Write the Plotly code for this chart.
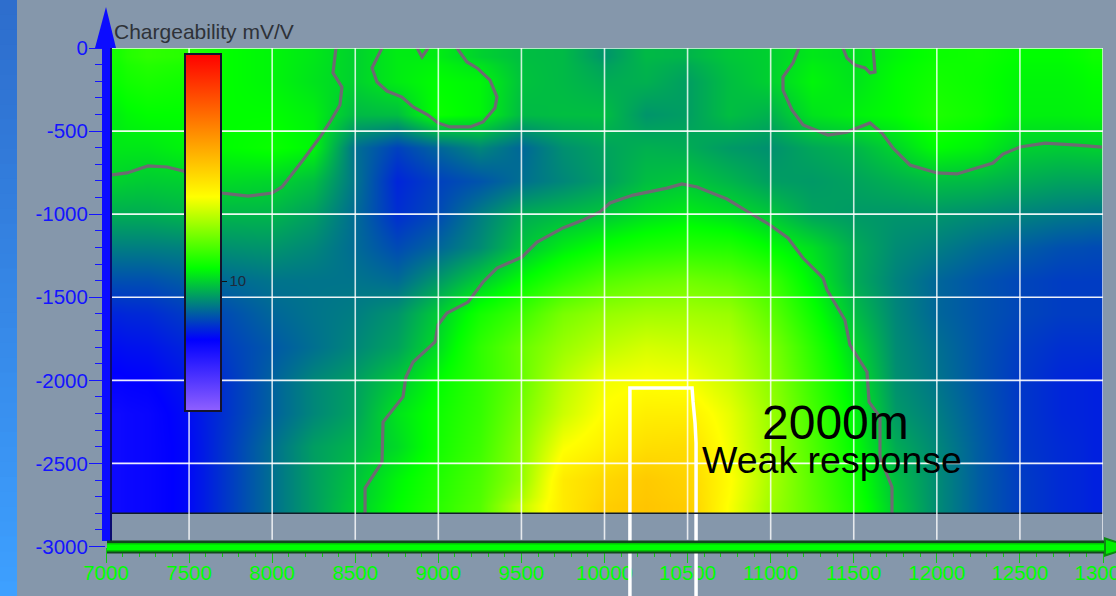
import plotly.graph_objects as go

W, H = 1116, 596
BG = "#8597AB"

# Heatmap cell edges (m): cells are 250 m wide and 200 m tall, trimmed at the survey limits
x_edges = [7030, 7125, 7375, 7625, 7875, 8125, 8375, 8625, 8875, 9125, 9375, 9625, 9875,
           10125, 10375, 10625, 10875, 11125, 11375, 11625, 11875, 12125, 12375, 12625, 12875, 13000]
y_edges = [0, -100, -300, -500, -700, -900, -1100, -1300, -1500, -1700, -1900, -2100, -2300, -2500, -2700, -2800]

row_0000 = [11.5, 12.0, 11.8, 11.0, 10.8, 10.5, 10.0, 10.6, 10.6, 10.0, 9.6, 9.5, 8.7, 9.5, 9.4, 9.8, 10.0, 10.5, 10.3, 10.8, 11.2, 11.3, 11.0, 11.0, 11.3]
row_0200 = [11.2, 11.5, 11.3, 11.0, 10.8, 10.4, 10.0, 10.6, 11.0, 10.8, 9.7, 9.5, 9.2, 9.3, 8.9, 9.6, 10.0, 10.8, 10.4, 11.0, 11.4, 11.2, 10.8, 10.8, 11.0]
row_0400 = [10.7, 11.0, 11.0, 11.0, 11.0, 10.7, 9.5, 9.6, 11.2, 10.8, 9.5, 9.6, 9.6, 8.7, 8.9, 9.6, 9.3, 10.4, 10.7, 11.0, 11.6, 11.3, 10.7, 10.7, 10.8]
row_0600 = [10.5, 10.5, 10.8, 11.0, 11.2, 10.8, 7.9, 6.9, 7.7, 8.4, 7.7, 8.6, 9.0, 9.3, 9.2, 8.8, 8.6, 9.1, 9.4, 10.1, 11.0, 10.7, 10.0, 9.9, 10.0]
row_0800 = [10.0, 9.9, 10.0, 10.2, 10.1, 9.6, 8.0, 6.3, 6.9, 7.3, 7.9, 8.4, 8.9, 9.6, 9.8, 9.4, 8.9, 8.8, 9.0, 9.3, 9.6, 9.5, 9.2, 9.0, 9.0]
row_1000 = [9.2, 9.2, 9.4, 9.4, 9.4, 8.9, 7.8, 6.5, 7.1, 8.2, 9.2, 9.5, 9.8, 10.3, 10.6, 10.3, 9.8, 9.0, 8.8, 8.7, 8.7, 8.5, 8.3, 8.1, 8.0]
row_1200 = [8.2, 8.2, 8.3, 8.6, 8.7, 8.4, 7.8, 7.1, 7.7, 8.5, 9.7, 10.6, 11.2, 11.6, 11.8, 11.7, 11.0, 10.3, 9.2, 8.5, 8.2, 7.8, 7.5, 7.2, 7.1]
row_1400 = [7.2, 7.2, 7.5, 7.8, 8.0, 8.0, 8.0, 7.8, 8.8, 9.9, 11.0, 12.0, 12.8, 13.2, 13.4, 13.1, 12.3, 10.7, 9.2, 8.3, 7.7, 7.3, 7.0, 6.8, 6.8]
row_1600 = [6.3, 6.4, 6.8, 7.2, 7.7, 8.0, 8.2, 8.7, 9.9, 11.4, 12.3, 13.6, 14.2, 14.5, 14.5, 14.3, 13.0, 11.3, 9.6, 8.4, 7.7, 7.3, 7.0, 6.8, 6.8]
row_1800 = [5.8, 5.9, 6.3, 6.9, 7.4, 7.9, 8.4, 9.0, 10.3, 12.0, 13.2, 14.3, 15.1, 15.6, 15.4, 15.0, 13.7, 11.9, 10.1, 8.5, 7.9, 7.3, 6.8, 6.5, 6.5]
row_2000 = [5.4, 5.5, 6.0, 6.7, 7.6, 8.4, 8.9, 9.8, 11.0, 12.0, 13.2, 15.0, 16.2, 16.4, 16.3, 15.4, 14.0, 12.2, 10.5, 8.6, 8.0, 7.3, 6.7, 6.3, 6.2]
row_2200 = [5.0, 5.2, 5.8, 6.7, 7.6, 8.4, 9.0, 10.4, 11.3, 12.1, 13.6, 15.4, 16.6, 17.2, 17.2, 16.0, 14.3, 12.5, 10.8, 8.8, 8.2, 7.4, 6.7, 6.3, 6.2]
row_2400 = [5.0, 5.2, 5.7, 6.8, 7.9, 8.9, 9.4, 10.2, 11.4, 12.3, 14.0, 16.4, 17.2, 17.9, 18.0, 16.2, 14.4, 12.7, 11.0, 9.2, 8.4, 7.5, 6.7, 6.4, 6.2]
row_2600 = [5.0, 5.2, 5.7, 6.8, 7.9, 8.9, 9.7, 10.8, 11.7, 12.6, 14.2, 17.4, 18.2, 18.8, 18.4, 16.6, 14.6, 12.9, 11.4, 9.6, 8.5, 7.5, 6.8, 6.4, 6.2]
row_2800 = [5.0, 5.2, 5.7, 6.8, 7.9, 8.9, 9.9, 11.0, 11.9, 12.8, 15.2, 17.4, 18.6, 19.0, 18.7, 16.4, 14.4, 13.0, 11.6, 9.8, 8.5, 7.5, 6.8, 6.4, 6.2]
z_rows = [row_0000, row_0200, row_0400, row_0600, row_0800, row_1000, row_1200, row_1400,
          row_1600, row_1800, row_2000, row_2200, row_2400, row_2600, row_2800]

# 10 mV/V contour pieces (position m, depth m)
contour_a_x = [7036, 7126, 7253, 7367, 7463, 7698, 7855, 7999, 8059, 8125, 8186, 8288, 8348, 8408, 8420, 8366, 8384]
contour_a_y = [-764, -752, -710, -716, -740, -873, -891, -873, -836, -752, -674, -536, -445, -343, -235, -150, 0]
contour_b_x = [8661, 8601, 8631, 8691, 8781, 8848, 8938, 8998, 9070, 9191, 9269, 9341, 9353, 9311, 9233, 9172, 9112]
contour_b_y = [0, -120, -205, -259, -295, -355, -403, -451, -475, -475, -445, -361, -295, -193, -120, -84, 0]
contour_v_x = [8872, 8902, 8938]
contour_v_y = [0, -54, 0]
contour_c_x = [11170, 11134, 11074, 11074, 11128, 11195, 11345, 11459, 11598, 11670, 11736, 11838, 12001, 12121, 12338, 12398, 12501, 12651, 12843, 12994]
contour_c_y = [0, -90, -175, -253, -373, -463, -524, -506, -451, -512, -602, -704, -752, -758, -692, -638, -596, -572, -584, -596]
contour_d_x = [8559, 8559, 8661, 8667, 8787, 8805, 8848, 8980, 8998, 9052, 9179, 9269, 9353, 9503, 9594, 9750, 9871, 9973, 10033, 10172, 10376, 10466, 10557, 10737, 10876, 10996, 11104, 11195, 11315, 11339, 11447, 11477, 11580, 11592, 11658, 11658, 11730, 11730]
contour_d_y = [-2800, -2648, -2491, -2251, -2100, -1980, -1890, -1769, -1667, -1595, -1529, -1408, -1324, -1258, -1168, -1083, -1035, -987, -933, -885, -843, -818, -836, -909, -993, -1065, -1143, -1264, -1384, -1456, -1637, -1787, -1950, -2130, -2221, -2461, -2642, -2800]
contour_e_x = [11435, 11459, 11507, 11568, 11598, 11628, 11616]
contour_e_y = [0, -60, -102, -120, -150, -144, 0]
contours = [(contour_a_x, contour_a_y), (contour_b_x, contour_b_y), (contour_v_x, contour_v_y),
            (contour_c_x, contour_c_y), (contour_d_x, contour_d_y), (contour_e_x, contour_e_y)]

# White outline of the 2000 m target
target_x = [10153, 10153, 10520, 10527, 10533, 10545, 10551, 10551]
target_y = [-3000, -2046, -2046, -2046, -2130, -2257, -2377, -3000]

x_ticks = [7000, 7500, 8000, 8500, 9000, 9500, 10000, 10500, 11000, 11500, 12000, 12500, 13000]
x_labels = ["7000", "7500", "8000", "8500", "9000", "9500", "10000", "10500", "11000", "11500", "12000", "12500", "13000"]
y_ticks = [0, -500, -1000, -1500, -2000, -2500, -3000]
y_labels = ["0", "-500", "-1000", "-1500", "-2000", "-2500", "-3000"]

colorscale = [[0, "#9060ff"], [0.2, "#0000ff"], [0.4, "#00ff00"], [0.6, "#ffff00"], [1, "#ff0000"]]


def px(v):
    return v / W


def py(v):
    return 1 - v / H


def rect(x0, y0, x1, y1, color):
    return dict(type="rect", xref="paper", yref="paper", x0=px(x0), x1=px(x1), y0=py(y0), y1=py(y1),
                fillcolor=color, line=dict(width=0), layer="above")


def poly(points, color):
    path = "M " + " L ".join(f"{px(a):.5f},{py(b):.5f}" for a, b in points) + " Z"
    return dict(type="path", xref="paper", yref="paper", path=path, fillcolor=color,
                line=dict(width=0), layer="above")


fig = go.Figure()
fig.add_trace(go.Heatmap(
    x=x_edges, y=y_edges, z=z_rows, zmin=0, zmax=27.5, zsmooth="best", colorscale=colorscale,
    hoverinfo="skip",
    colorbar=dict(
        xref="container", yref="container", x=185 / W, y=1 - 411 / H, xanchor="left", yanchor="bottom",
        thicknessmode="pixels", thickness=36, lenmode="pixels", len=357, xpad=0, ypad=0,
        outlinewidth=2, outlinecolor="#14142e", borderwidth=0, tickvals=[10], ticktext=["10"],
        ticks="outside", ticklen=5, tickwidth=1, tickcolor="#111",
        tickfont=dict(family="Liberation Sans", size=15, color="#1e2a3a"),
    ),
))
for cx, cy in contours:
    fig.add_trace(go.Scatter(x=cx, y=cy, mode="lines", line=dict(color="#6d6b72", width=3.2), hoverinfo="skip", showlegend=False))
fig.add_trace(go.Scatter(x=target_x, y=target_y, mode="lines",
                         line=dict(color="#ffffff", width=3.5), hoverinfo="skip", showlegend=False))

shapes = []
# left strip
n = 40
for i in range(n):
    t = i / (n - 1)
    col = f"rgb({int(46 + 16 * t)},{int(110 + 50 * t)},{int(205 + 50 * t)})"
    shapes.append(rect(0, H * i / n, 17, H * (i + 1) / n + 1, col))
# lower edge of the data
shapes.append(dict(type="line", xref="x", yref="y", x0=7030, x1=13000, y0=-2800, y1=-2800,
                   line=dict(color="#101c28", width=1.5), layer="above"))
# grid
for v in y_ticks[:-1]:
    shapes.append(dict(type="line", xref="x", yref="y", x0=7030, x1=13000, y0=v, y1=v,
                       line=dict(color="rgba(255,255,255,0.92)", width=1.6), layer="above"))
for v in x_ticks[1:]:
    shapes.append(dict(type="line", xref="x", yref="y", x0=v, x1=v, y0=0, y1=-2960,
                       line=dict(color="rgba(255,255,255,0.8)", width=1.6), layer="above"))
# the target outline continues down past the axis, to the bottom of the page
for v in (target_x[0], target_x[-1]):
    shapes.append(dict(type="line", xref="x", yref="paper", x0=v, x1=v, y0=0, y1=py(546),
                       line=dict(color="#ffffff", width=3.5), layer="above"))
# blue axis bar
shapes.append(rect(102, 47, 111, 541, "#0c0cff"))
shapes.append(rect(110, 47, 112, 541, "#0a0a70"))
shapes.append(poly([(95, 48), (116, 48), (106, 7)], "#0c0cff"))
# green axis bar
shapes.append(rect(107, 540.5, 1108, 553.5, "#14461e"))
shapes.append(rect(107, 543, 1108, 551.5, "#00c800"))
shapes.append(rect(107, 544.5, 1108, 550, "#00ff00"))
shapes.append(poly([(1104, 537), (1116, 541), (1116, 553), (1104, 557)], "#0a8a10"))
shapes.append(poly([(1106, 540), (1116, 543), (1116, 551), (1106, 554)], "#00f000"))

annotations = [
    dict(text="Chargeability mV/V", x=px(112), y=py(31), xref="paper", yref="paper", xanchor="left", yanchor="middle",
         showarrow=False, font=dict(family="Liberation Sans", size=21, color="#2e3238")),
    dict(text="2000m", x=px(835), y=py(422), xref="paper", yref="paper", xanchor="center", yanchor="middle",
         showarrow=False, font=dict(family="Liberation Sans", size=48, color="#000")),
    dict(text="Weak response", x=px(832), y=py(460), xref="paper", yref="paper", xanchor="center", yanchor="middle",
         showarrow=False, font=dict(family="Liberation Sans", size=37.5, color="#000")),
]

fig.update_layout(
    width=W, height=H, margin=dict(l=0, r=0, t=0, b=0, autoexpand=False), paper_bgcolor=BG, plot_bgcolor=BG,
    showlegend=False, shapes=shapes, annotations=annotations,
    xaxis=dict(domain=[106 / W, 1103 / W], range=[7000, 13000], showgrid=False, zeroline=False,
               tickmode="array", tickvals=x_ticks, ticktext=x_labels, ticks="outside", ticklen=15,
               tickwidth=1, tickcolor="#12c912", showline=False, ticklabeloverflow="allow",
               ticklabelstandoff=-7,
               tickfont=dict(family="Liberation Sans", size=20.5, color="#00ff00"),
               minor=dict(dtick=100, ticks="outside", ticklen=9, tickwidth=1, tickcolor="#12c912"),
               automargin=False),
    yaxis=dict(domain=[1 - 546.5 / H, 1 - 48 / H], range=[-3000, 0], showgrid=False, zeroline=False,
               tickmode="array", tickvals=y_ticks, ticktext=y_labels, ticks="outside", ticklen=16,
               tickwidth=1, tickcolor="#1414ff", showline=False, ticklabelstandoff=-3,
               tickfont=dict(family="Liberation Sans", size=20.5, color="#1414ff"),
               minor=dict(dtick=100, ticks="outside", ticklen=10, tickwidth=1, tickcolor="#1414ff"),
               automargin=False),
)

fig.write_html("out.html", config=dict(displayModeBar=False),
               post_script="document.body.style.margin='0';document.documentElement.style.overflow='hidden';")
